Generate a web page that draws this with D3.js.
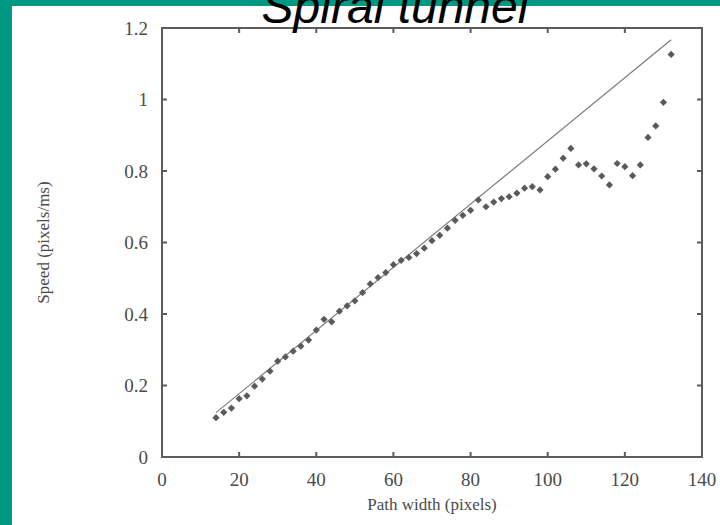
<!DOCTYPE html>
<html>
<head>
<meta charset="utf-8">
<script src="https://cdn.jsdelivr.net/npm/d3@7"></script>
<style>
  body { margin: 0; background: #009882; }
  svg { display: block; }
</style>
</head>
<body>
<div id="chart"></div>
<script>
// data
var pathWidth = [14,16,18,20,22,24,26,28,30,32,34,36,38,40,42,44,46,48,50,52,
  54,56,58,60,62,64,66,68,70,72,74,76,78,80,82,84,86,88,90,92,
  94,96,98,100,102,104,106,108,110,112,114,116,118,120,122,124,126,128,130,132];
var speed = [0.110,0.125,0.137,0.163,0.171,0.198,0.218,0.240,0.268,0.280,0.296,0.310,0.327,0.355,0.385,0.378,0.408,0.423,0.437,0.460,
  0.484,0.502,0.516,0.538,0.550,0.558,0.569,0.584,0.605,0.620,0.640,0.662,0.676,0.690,0.719,0.700,0.713,0.723,0.728,0.738,
  0.752,0.756,0.747,0.784,0.805,0.836,0.863,0.817,0.820,0.806,0.786,0.761,0.821,0.812,0.787,0.817,0.894,0.926,0.992,1.126];
var fitX = [14, 132];
var fitY = [0.124, 1.167];
var xTicks = [0,20,40,60,80,100,120,140];
var yTicks = [0,0.2,0.4,0.6,0.8,1,1.2];

var W = 720, H = 525;
var margin = {top: 28, right: 18, bottom: 68, left: 162};

var svg = d3.select("#chart")
  .append("svg")
    .attr("width", W)
    .attr("height", H);

// white panel on the teal slide
svg.append("rect")
  .attr("x", 12).attr("y", 6)
  .attr("width", W - 12).attr("height", H - 6)
  .attr("fill", "#fff");

var xs = d3.scaleLinear()
  .domain([0, 140])
  .range([margin.left, W - margin.right]);
var ys = d3.scaleLinear()
  .domain([0, 1.2])
  .range([H - margin.bottom, margin.top]);

var inkColor = "#4a4a4a";
var axisColor = "#5c5c5c";
var serif = "'Liberation Serif', 'DejaVu Serif', serif";
var tickLen = 5;

// tick labels
svg.selectAll(".xlab").data(xTicks).enter().append("text")
  .attr("x", function(d) { return xs(d); })
  .attr("y", ys(0) + 29)
  .attr("text-anchor", "middle")
  .attr("fill", inkColor)
  .style("font-family", serif)
  .style("font-size", "19px")
  .text(function(d) { return d; });
svg.selectAll(".ylab").data(yTicks).enter().append("text")
  .attr("x", xs(0) - 14)
  .attr("y", function(d) { return ys(d); })
  .attr("dy", "0.35em")
  .attr("text-anchor", "end")
  .attr("fill", inkColor)
  .style("font-family", serif)
  .style("font-size", "19px")
  .text(function(d) { return +d.toFixed(1); });

// fitted line
var fit = fitX.map(function(d, i) { return [d, fitY[i]]; });
svg.append("path")
  .datum(fit)
  .attr("fill", "none")
  .attr("stroke", "#777")
  .attr("stroke-width", 1.1)
  .attr("d", d3.line().x(function(d) { return xs(d[0]); }).y(function(d) { return ys(d[1]); }));

// measured points (diamonds)
var pts = pathWidth.map(function(d, i) { return {w: d, s: speed[i]}; });
svg.selectAll(".pt")
  .data(pts)
  .enter()
  .append("path")
    .attr("class", "pt")
    .attr("d", d3.symbol(d3.symbolSquare, 26))
    .attr("transform", function(d) { return "translate(" + xs(d.w) + "," + ys(d.s) + ") rotate(45)"; })
    .attr("fill", "#5a5a5a");

// frame as one path, ticks inward on all four sides
var x0 = xs(0), x1 = xs(140), y0 = ys(0), y1 = ys(1.2);
var p = d3.path();
p.moveTo(x0, y0); p.lineTo(x1, y0); p.lineTo(x1, y1); p.lineTo(x0, y1); p.closePath();
xTicks.forEach(function(d) {
  p.moveTo(xs(d), y0); p.lineTo(xs(d), y0 - tickLen);
  p.moveTo(xs(d), y1); p.lineTo(xs(d), y1 + tickLen);
});
yTicks.forEach(function(d) {
  p.moveTo(x0, ys(d)); p.lineTo(x0 + tickLen, ys(d));
  p.moveTo(x1, ys(d)); p.lineTo(x1 - tickLen, ys(d));
});
svg.append("path")
  .attr("d", p.toString())
  .attr("fill", "none")
  .attr("stroke", axisColor)
  .attr("stroke-width", 2);

// axis titles
svg.append("text")
  .attr("x", xs(70)).attr("y", 510)
  .attr("text-anchor", "middle")
  .attr("fill", inkColor)
  .style("font-family", serif)
  .style("font-size", "17px")
  .text("Path width (pixels)");

svg.append("text")
  .attr("transform", "translate(49," + ys(0.6) + ") rotate(-90)")
  .attr("text-anchor", "middle")
  .attr("fill", inkColor)
  .style("font-family", serif)
  .style("font-size", "17px")
  .text("Speed (pixels/ms)");

// title, partly above the panel as in the slide
svg.append("text")
  .attr("x", 395).attr("y", 23)
  .attr("text-anchor", "middle")
  .attr("fill", "#000")
  .style("font-family", "'Liberation Sans', Arial, sans-serif")
  .style("font-style", "italic")
  .style("font-size", "48px")
  .text("Spiral tunnel");
</script>
</body>
</html>
